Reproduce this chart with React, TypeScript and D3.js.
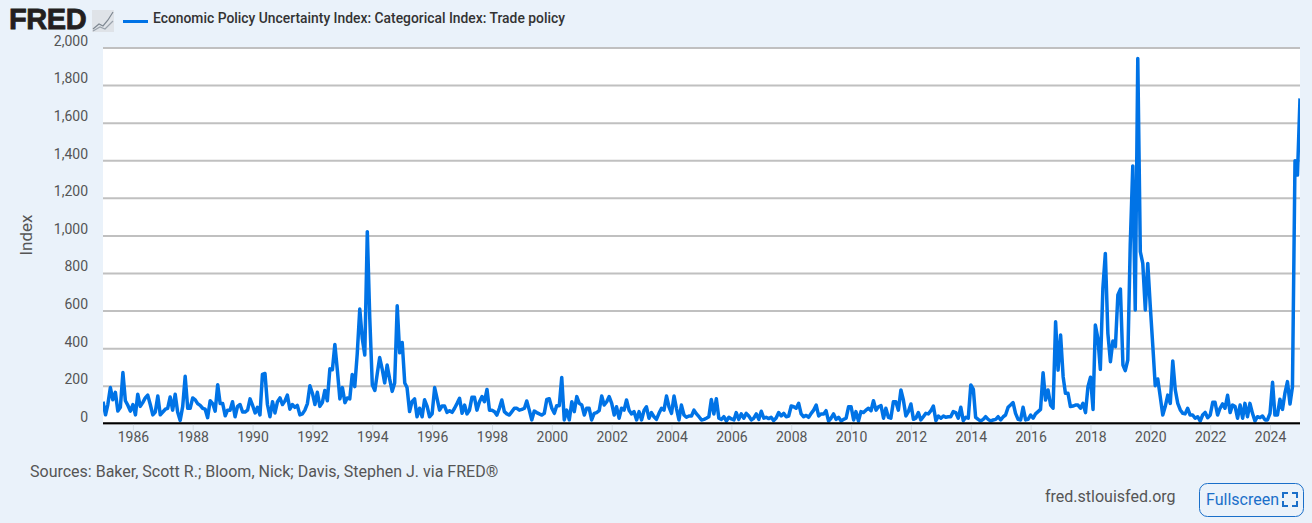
import * as d3 from "d3";
import { useEffect, useRef } from "react";

const title = "Economic Policy Uncertainty Index: Categorical Index: Trade policy";
const source = "Sources: Baker, Scott R.; Bloom, Nick; Davis, Stephen J. via FRED®";
const yTicks = [0, 200, 400, 600, 800, 1000, 1200, 1400, 1600, 1800, 2000];
const tickYears = d3.range(1986, 2025, 2);

// monthly readings, Jan 1985 onwards
const values1985to1989 = [
  115, 45, 100, 190, 125, 165, 65, 85, 270, 120, 95, 65,
  100, 45, 155, 90, 110, 135, 150, 100, 45, 60, 145, 45,
  60, 75, 80, 140, 70, 155, 60, 15, 90, 250, 80, 80,
  135, 125, 105, 95, 80, 75, 30, 120, 105, 65, 205, 105,
  105, 40, 70, 70, 115, 35, 90, 100, 60, 60, 70, 130,
];
const values1990to1994 = [
  95, 55, 85, 45, 260, 265, 100, 35, 115, 55, 115, 135,
  100, 120, 150, 75, 100, 85, 95, 45, 50, 70, 105, 200,
  160, 100, 165, 90, 110, 175, 120, 290, 285, 420, 280, 130,
  190, 110, 135, 130, 260, 195, 370, 608, 450, 364, 1020, 560,
  205, 175, 260, 350, 290, 215, 310, 235, 170, 215, 625, 375,
];
const values1995to1999 = [
  430, 215, 190, 63, 115, 130, 35, 80, 35, 125, 90, 35,
  50, 190, 133, 70, 92, 92, 58, 67, 58, 80, 106, 133,
  53, 97, 50, 70, 138, 138, 70, 115, 142, 115, 180, 70,
  70, 62, 44, 80, 124, 62, 50, 44, 62, 80, 80, 70,
  74, 80, 119, 70, 18, 65, 57, 50, 44, 53, 127, 131,
];
const values2000to2004 = [
  80, 53, 94, 94, 244, 18, 70, 18, 115, 62, 142, 106,
  97, 44, 80, 80, 18, 53, 57, 67, 145, 97, 115, 142,
  106, 44, 88, 27, 80, 70, 124, 70, 50, 62, 18, 62,
  18, 70, 88, 27, 57, 35, 21, 53, 80, 70, 145, 88,
  53, 145, 80, 18, 97, 44, 32, 39, 39, 70, 50, 35,
];
const values2005to2009 = [
  18, 21, 27, 35, 127, 50, 131, 27, 21, 35, 12, 32,
  23, 18, 57, 21, 50, 27, 53, 39, 18, 27, 50, 21,
  64, 27, 32, 25, 32, 14, 28, 57, 39, 53, 35, 39,
  92, 88, 80, 106, 50, 35, 42, 32, 53, 70, 97, 39,
  50, 50, 67, 12, 27, 50, 21, 32, 12, 21, 27, 88,
];
const values2010to2014 = [
  88, 18, 62, 12, 62, 57, 70, 80, 67, 120, 70, 88,
  94, 27, 80, 32, 27, 115, 115, 70, 177, 124, 39, 62,
  103, 21, 27, 57, 18, 35, 53, 50, 67, 92, 14, 39,
  27, 39, 32, 35, 35, 62, 57, 27, 85, 14, 32, 27,
  204, 180, 32, 21, 12, 21, 35, 21, 12, 18, 21, 35,
];
const values2015to2019 = [
  18, 35, 44, 85, 97, 110, 53, 21, 18, 85, 18, 21,
  44, 27, 50, 62, 74, 269, 124, 177, 97, 80, 540, 283,
  470, 248, 160, 160, 89, 92, 97, 97, 80, 106, 57, 195,
  245, 74, 523, 452, 287, 718, 904, 479, 328, 438, 408, 683,
  714, 310, 280, 337, 950, 1370, 603, 1941, 913, 851, 603, 851,
];
const values2020to2025 = [
  620, 408, 200, 236, 142, 44, 89, 150, 106, 332, 177, 106,
  71, 53, 50, 80, 44, 44, 27, 35, 12, 44, 58, 30,
  44, 112, 112, 44, 80, 103, 80, 149, 57, 97, 89, 27,
  97, 27, 106, 35, 106, 53, 12, 35, 30, 39, 18, 18,
  53, 218, 44, 44, 128, 74, 160, 222, 103, 195, 1397, 1321,
  1729,
];

const values = [
  ...values1985to1989,
  ...values1990to1994,
  ...values1995to1999,
  ...values2000to2004,
  ...values2005to2009,
  ...values2010to2014,
  ...values2015to2019,
  ...values2020to2025,
];

const FONT = "Roboto, sans-serif";

export default function App() {
  const ref = useRef<SVGSVGElement | null>(null);

  useEffect(() => {
    const svg = d3.select(ref.current);
    svg.selectAll("*").remove();

    const width = 1312;
    const height = 523;
    const margin = { top: 47.5, right: 12, bottom: 99.7, left: 103 };

    svg.append("rect").attr("width", width).attr("height", height).attr("fill", "#eaf2fa");

    const dates = values.map((_, i) => new Date(Date.UTC(1985, i, 1)));
    const x = d3
      .scaleUtc()
      .domain([new Date(Date.UTC(1985, 0, 1)), new Date(Date.UTC(2025, 0, 1))])
      .range([margin.left, width - margin.right]);
    const y = d3
      .scaleLinear()
      .domain([0, 2000])
      .range([height - margin.bottom, margin.top]);

    // plot background
    svg
      .append("rect")
      .attr("x", margin.left)
      .attr("y", margin.top)
      .attr("width", width - margin.left - margin.right)
      .attr("height", height - margin.top - margin.bottom)
      .attr("fill", "#fff");

    // y axis with gridlines
    const yAxis = svg
      .append("g")
      .attr("transform", `translate(${margin.left},0)`)
      .call(
        d3
          .axisLeft(y)
          .tickValues(yTicks)
          .tickSize(-(width - margin.left - margin.right))
          .tickPadding(15)
          .tickFormat((d) => d3.format(",")(d as number)),
      );
    yAxis.select(".domain").remove();
    yAxis.selectAll("line").attr("stroke", "#c0c0c0").attr("stroke-width", 2);
    yAxis
      .selectAll("text")
      .attr("dy", "-0.15em")
      .style("font-family", FONT)
      .style("font-size", "14px")
      .style("fill", "#555");

    // x axis
    const xAxis = svg
      .append("g")
      .attr("transform", `translate(0,${y(0)})`)
      .call(
        d3
          .axisBottom(x)
          .tickValues(tickYears.map((yr) => new Date(Date.UTC(yr, 0, 1))))
          .tickSize(7)
          .tickPadding(2)
          .tickFormat((d) => String((d as Date).getUTCFullYear())),
      );
    xAxis.select(".domain").remove();
    xAxis.selectAll("line").attr("stroke", "#d5dde5");
    xAxis
      .selectAll("text")
      .style("font-family", FONT)
      .style("font-size", "14px")
      .style("fill", "#555");

    svg
      .append("clipPath")
      .attr("id", "plot-clip")
      .append("rect")
      .attr("x", margin.left)
      .attr("y", margin.top - 5)
      .attr("width", width - margin.left - margin.right)
      .attr("height", height - margin.top - margin.bottom + 10);

    const line = d3
      .line<number>()
      .x((_, i) => x(dates[i]))
      .y((d) => y(d));

    svg
      .append("path")
      .datum(values)
      .attr("d", line)
      .attr("fill", "none")
      .attr("stroke", "#0073e6")
      .attr("stroke-width", 3.5)
      .attr("stroke-linejoin", "round")
      .attr("clip-path", "url(#plot-clip)");

    // baseline over the line
    svg
      .append("line")
      .attr("x1", margin.left)
      .attr("x2", width - margin.right)
      .attr("y1", y(0))
      .attr("y2", y(0))
      .attr("stroke", "#000")
      .attr("stroke-width", 2);

    svg
      .append("text")
      .attr("transform", "translate(32,235) rotate(-90)")
      .attr("text-anchor", "middle")
      .style("font-family", FONT)
      .style("font-size", "17px")
      .style("fill", "#555")
      .text("Index");

    // logo
    svg
      .append("text")
      .attr("x", 9)
      .attr("y", 29)
      .style("font-family", "'Liberation Sans', Arial, sans-serif")
      .style("font-weight", "bold")
      .style("font-size", "29px")
      .style("letter-spacing", "-0.4px")
      .style("fill", "#231f20")
      .style("stroke", "#231f20")
      .style("stroke-width", 0.8)
      .text("FRED");
    svg
      .append("rect")
      .attr("x", 92)
      .attr("y", 10)
      .attr("width", 22)
      .attr("height", 22)
      .attr("fill", "#dfe3e8");
    const iconLine = d3.line();
    svg
      .append("path")
      .attr("d", iconLine([[93, 29], [99, 24], [103, 26], [108, 20], [113, 12]]))
      .attr("fill", "none")
      .attr("stroke", "#7d8791")
      .attr("stroke-width", 1.2);
    svg
      .append("path")
      .attr("d", iconLine([[93, 31], [100, 27], [105, 29], [113, 21]]))
      .attr("fill", "none")
      .attr("stroke", "#9aa3ac")
      .attr("stroke-width", 1.2);

    // legend
    svg
      .append("line")
      .attr("x1", 123)
      .attr("x2", 148)
      .attr("y1", 21.5)
      .attr("y2", 21.5)
      .attr("stroke", "#0073e6")
      .attr("stroke-width", 3);
    svg
      .append("text")
      .attr("x", 153)
      .attr("y", 23)
      .style("font-family", FONT)
      .style("font-size", "14px")
      .style("font-weight", 500)
      .style("fill", "#333")
      .attr("textLength", 412)
      .attr("lengthAdjust", "spacingAndGlyphs")
      .text(title);

    svg
      .append("text")
      .attr("x", 30)
      .attr("y", 477)
      .style("font-family", FONT)
      .style("font-size", "16px")
      .style("fill", "#555")
      .text(source);

    svg
      .append("text")
      .attr("x", 1045)
      .attr("y", 502)
      .style("font-family", FONT)
      .style("font-size", "16px")
      .style("fill", "#555")
      .text("fred.stlouisfed.org");

    // fullscreen button
    svg
      .append("rect")
      .attr("x", 1199.5)
      .attr("y", 483.5)
      .attr("width", 104)
      .attr("height", 33)
      .attr("rx", 8)
      .attr("fill", "none")
      .attr("stroke", "#1a6fc9");
    svg
      .append("text")
      .attr("x", 1206)
      .attr("y", 505)
      .style("font-family", FONT)
      .style("font-size", "16px")
      .style("fill", "#1a6fc9")
      .text("Fullscreen");
    const corners: [number, number][][] = [
      [[1283, 498], [1283, 493], [1288, 493]],
      [[1292, 493], [1297, 493], [1297, 498]],
      [[1283, 501], [1283, 506], [1288, 506]],
      [[1292, 506], [1297, 506], [1297, 501]],
    ];
    corners.forEach((c) => {
      svg
        .append("path")
        .attr("d", iconLine(c))
        .attr("fill", "none")
        .attr("stroke", "#1a6fc9")
        .attr("stroke-width", 2);
    });
  }, []);

  return (
    <svg
      ref={ref}
      width={1312}
      height={523}
      style={{ position: "absolute", left: 0, top: 0, display: "block" }}
    />
  );
}
